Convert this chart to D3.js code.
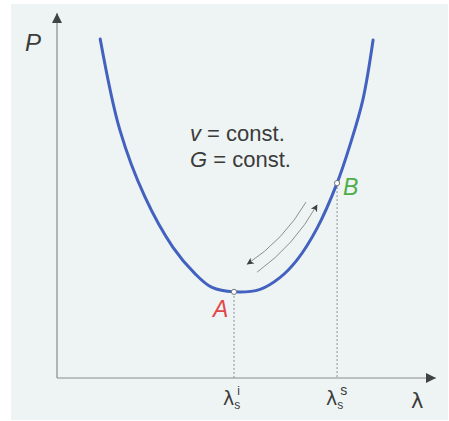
<!DOCTYPE html>
<html>
<head>
<meta charset="utf-8">
<script src="https://cdn.jsdelivr.net/npm/d3@7"></script>
<style>
  html, body { margin: 0; padding: 0; background: #ffffff; }
  svg { display: block; }
</style>
</head>
<body>
<script>
// Pressure P versus stretch ratio λ at constant v and G
const lambdaVals = [0.114, 0.166, 0.232, 0.306, 0.364, 0.409, 0.467, 0.536, 0.588, 0.633, 0.686, 0.739, 0.773, 0.807, 0.834];
const pressureVals = [0.929, 0.679, 0.496, 0.358, 0.286, 0.248, 0.236, 0.243, 0.275, 0.323, 0.410, 0.534, 0.638, 0.762, 0.926];

// Marked states on the curve
const pointNames = ["A", "B"];
const pointLambda = [0.467, 0.739];
const pointPressure = [0.236, 0.534];
const pointColors = ["#e2474b", "#4fae48"];

// Tick labels at the marked states
const tickBase = ["λ", "λ"];
const tickSub = ["s", "s"];
const tickSup = ["i", "s"];

// Loading / unloading arrows along the curve: [start, end] in data units
const arrowStartL = [0.657, 0.528];
const arrowStartP = [0.482, 0.290];
const arrowEndL = [0.502, 0.686];
const arrowEndP = [0.312, 0.474];

const W = 449, H = 421;
const svg = d3.select("body").append("svg").attr("width", W).attr("height", H);

svg.append("rect").attr("x", 11).attr("y", 4).attr("width", 437).attr("height", 416).attr("fill", "#eef4f4");

const x = d3.scaleLinear().domain([0, 1]).range([57, 436]);
const y = d3.scaleLinear().domain([0, 1]).range([378, 13]);

const defs = svg.append("defs");
defs.append("marker").attr("id", "axisHead").attr("viewBox", "0 0 10 10")
  .attr("refX", 10).attr("refY", 5).attr("markerWidth", 14).attr("markerHeight", 10)
  .attr("markerUnits", "userSpaceOnUse").attr("orient", "auto")
  .append("path").attr("d", "M0,0 L10,5 L0,10 Z").attr("fill", "#3f4443");
defs.append("marker").attr("id", "smallHead").attr("viewBox", "0 0 10 10")
  .attr("refX", 9).attr("refY", 5).attr("markerWidth", 9).attr("markerHeight", 7)
  .attr("markerUnits", "userSpaceOnUse").attr("orient", "auto")
  .append("path").attr("d", "M0,0 L10,5 L0,10 L2.5,5 Z").attr("fill", "#3c423f");

// Axes
svg.append("line").attr("x1", x(0)).attr("y1", y(0)).attr("x2", x(0)).attr("y2", y(1))
  .attr("stroke", "#8a8a8a").attr("stroke-width", 1.2).attr("marker-end", "url(#axisHead)");
svg.append("line").attr("x1", x(0)).attr("y1", y(0)).attr("x2", x(1)).attr("y2", y(0))
  .attr("stroke", "#8a8a8a").attr("stroke-width", 1.2).attr("marker-end", "url(#axisHead)");

// Dashed drop lines
pointLambda.forEach((l, i) => {
  svg.append("line").attr("x1", x(l)).attr("x2", x(l))
    .attr("y1", y(pointPressure[i])).attr("y2", y(0))
    .attr("stroke", "#8d8d8d").attr("stroke-width", 1).attr("stroke-dasharray", "2,2");
});

// Curve
const pts = lambdaVals.map((l, i) => [l, pressureVals[i]]);
const line = d3.line().x(d => x(d[0])).y(d => y(d[1])).curve(d3.curveCatmullRom.alpha(0.5));
svg.append("path").attr("d", line(pts)).attr("fill", "none")
  .attr("stroke", "#4361bf").attr("stroke-width", 3).attr("stroke-linecap", "round");

// Arrows
arrowStartL.forEach((l, i) => {
  const x0 = x(l), y0 = y(arrowStartP[i]);
  const x1 = x(arrowEndL[i]), y1 = y(arrowEndP[i]);
  const mx = (x0 + x1) / 2, my = (y0 + y1) / 2;
  const dx = x1 - x0, dy = y1 - y0, len = Math.hypot(dx, dy);
  let nx = -dy / len, ny = dx / len;
  if (nx < 0) { nx = -nx; ny = -ny; }
  const p = d3.path();
  p.moveTo(x0, y0);
  p.quadraticCurveTo(mx + nx * 10, my + ny * 10, x1, y1);
  svg.append("path").attr("d", p.toString()).attr("fill", "none")
    .attr("stroke", "#8b8f8e").attr("stroke-width", 1).attr("marker-end", "url(#smallHead)");
});

// Points
pointLambda.forEach((l, i) => {
  svg.append("circle").attr("cx", x(l)).attr("cy", y(pointPressure[i])).attr("r", 2.6)
    .attr("fill", "#ffffff").attr("stroke", "#777").attr("stroke-width", 1);
});

// Point labels
svg.append("text").attr("x", x(pointLambda[0]) - 21).attr("y", y(pointPressure[0]) + 25)
  .attr("font-family", "Liberation Sans, Arial, sans-serif").attr("font-style", "italic")
  .attr("font-size", 23).attr("fill", pointColors[0]).text(pointNames[0]);
svg.append("text").attr("x", x(pointLambda[1]) + 6).attr("y", y(pointPressure[1]) + 12)
  .attr("font-family", "Liberation Sans, Arial, sans-serif").attr("font-style", "italic")
  .attr("font-size", 23).attr("fill", pointColors[1]).text(pointNames[1]);

// Constant-parameter annotation
const ann = svg.append("text").attr("font-family", "Liberation Sans, Arial, sans-serif")
  .attr("font-size", 22).attr("fill", "#3b3b3b");
const t1 = ann.append("tspan").attr("x", 190).attr("y", 141);
t1.append("tspan").attr("font-style", "italic").text("v");
t1.append("tspan").text(" = const.");
const t2 = ann.append("tspan").attr("x", 190).attr("y", 167);
t2.append("tspan").attr("font-style", "italic").text("G");
t2.append("tspan").text(" = const.");

// Axis titles
svg.append("text").attr("x", 25).attr("y", 51)
  .attr("font-family", "Liberation Sans, Arial, sans-serif").attr("font-style", "italic")
  .attr("font-size", 24).attr("fill", "#3b3b3b").text("P");
svg.append("text").attr("x", 411).attr("y", 408)
  .attr("font-family", "DejaVu Sans, sans-serif")
  .attr("font-size", 21).attr("fill", "#3b3b3b").text("λ");

// Tick labels under the marked states
pointLambda.forEach((l, i) => {
  const g = svg.append("text").attr("x", x(l) - 11).attr("y", 405)
    .attr("font-family", "DejaVu Sans, sans-serif").attr("fill", "#3b3b3b");
  g.append("tspan").attr("font-size", 19).text(tickBase[i]);
  g.append("tspan").attr("font-size", 12).attr("font-family", "Liberation Sans, Arial, sans-serif")
    .attr("dy", 4).text(tickSub[i]);
  g.append("tspan").attr("font-size", i === 0 ? 12 : 14).attr("font-family", "Liberation Sans, Arial, sans-serif")
    .attr("dx", -3).attr("dy", -14).text(tickSup[i]);
});
</script>
</body>
</html>
